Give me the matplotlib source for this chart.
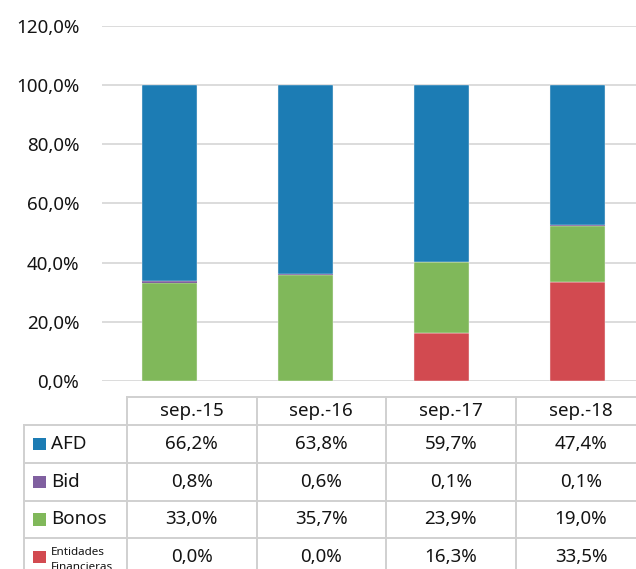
import matplotlib
matplotlib.use("Agg")
import matplotlib.pyplot as plt
from matplotlib.lines import Line2D
from matplotlib.patches import Rectangle
import numpy as np

categories = ["sep.-15", "sep.-16", "sep.-17", "sep.-18"]
series_names = ["AFD", "Bid", "Bonos", "Entidades\nFinancieras"]
afd = [66.2, 63.8, 59.7, 47.4]
bid = [0.8, 0.6, 0.1, 0.1]
bonos = [33.0, 35.7, 23.9, 19.0]
entidades = [0.0, 0.0, 16.3, 33.5]
yticks = [0, 20, 40, 60, 80, 100, 120]

colors = {"AFD": "#1c7cb4", "Bid": "#8060a0", "Bonos": "#80b85a", "Ent": "#d24a50"}

plt.rcParams['font.family'] = ['Noto Sans', 'DejaVu Sans']

W, H = 636, 569
fig = plt.figure(figsize=(W / 100, H / 100), dpi=100)

def fx(px):
    return px / W

def fy(py):
    return 1 - py / H

FS = 13.5
txt_color = "#141414"

ax_left, ax_right, ax_top, ax_bot = 101.5, 645.5, 25.7, 381
ax = fig.add_axes([fx(ax_left), fy(ax_bot), fx(ax_right) - fx(ax_left), fy(ax_top) - fy(ax_bot)])

x = np.arange(len(categories))
bw = 0.40
edge = dict(edgecolor="#f4f4f4", linewidth=0.3)
b0 = np.zeros(len(categories))
ax.bar(x, entidades, bw, bottom=b0, color=colors["Ent"], zorder=3, **edge)
b1 = b0 + np.array(entidades)
ax.bar(x, bonos, bw, bottom=b1, color=colors["Bonos"], zorder=3, **edge)
b2 = b1 + np.array(bonos)
ax.bar(x, bid, bw, bottom=b2, color=colors["Bid"], zorder=3, linewidth=0)
b3 = b2 + np.array(bid)
ax.bar(x, afd, bw, bottom=b3, color=colors["AFD"], zorder=3, **edge)

ax.set_xlim(-0.5, len(categories) - 0.5)
ax.set_ylim(0, 120)
ax.set_yticks(yticks)
ax.set_yticklabels([f"{v:.1f}".replace(".", ",") + "%" for v in yticks], fontsize=FS, color=txt_color)
ax.tick_params(axis="y", length=0, pad=16)
ax.set_xticks([])
ax.grid(axis="y", color="#d9d9d9", linewidth=1.3, zorder=0)
for s in ax.spines.values():
    s.set_visible(False)

# ---- data table ----
line_kw = dict(color="#d0d0d0", linewidth=1.4, transform=fig.transFigure, clip_on=False)
col_x = [127, 256.7, 385.7, 516, 646]
lab_x0 = 24
head_top = 397
row_y = [425, 463, 500.5, 538, 576]

fig.add_artist(Line2D([fx(col_x[0]), fx(col_x[-1])], [fy(head_top)] * 2, **line_kw))
for cx in col_x:
    fig.add_artist(Line2D([fx(cx)] * 2, [fy(head_top), fy(row_y[-1])], **line_kw))
for ry in row_y:
    fig.add_artist(Line2D([fx(lab_x0), fx(col_x[-1])], [fy(ry)] * 2, **line_kw))
fig.add_artist(Line2D([fx(lab_x0)] * 2, [fy(row_y[0]), fy(row_y[-1])], **line_kw))

for j, cat in enumerate(categories):
    cxm = (col_x[j] + col_x[j + 1]) / 2
    fig.text(fx(cxm), fy((head_top + row_y[0]) / 2), cat, ha="center", va="center",
             fontsize=FS, color=txt_color)

rows = [("AFD", afd, colors["AFD"]), ("Bid", bid, colors["Bid"]),
        ("Bonos", bonos, colors["Bonos"]), ("Entidades\nFinancieras", entidades, colors["Ent"])]
for i, (name, vals, col) in enumerate(rows):
    yc = (row_y[i] + row_y[i + 1]) / 2
    sq = 12.5
    fig.add_artist(Rectangle((fx(33), fy(yc + sq / 2)), fx(sq), sq / H, facecolor=col,
                             edgecolor="none", transform=fig.transFigure))
    if "\n" in name:
        fig.text(fx(51), fy(547), name, ha="left", va="top", fontsize=8.4,
                 color=txt_color, linespacing=1.45)
    else:
        fig.text(fx(51), fy(yc), name, ha="left", va="center", fontsize=FS, color=txt_color)
    for j, v in enumerate(vals):
        cxm = (col_x[j] + col_x[j + 1]) / 2
        fig.text(fx(cxm), fy(yc), f"{v:.1f}".replace(".", ",") + "%", ha="center",
                 va="center", fontsize=FS, color=txt_color)

fig.savefig("out.png", dpi=100)
